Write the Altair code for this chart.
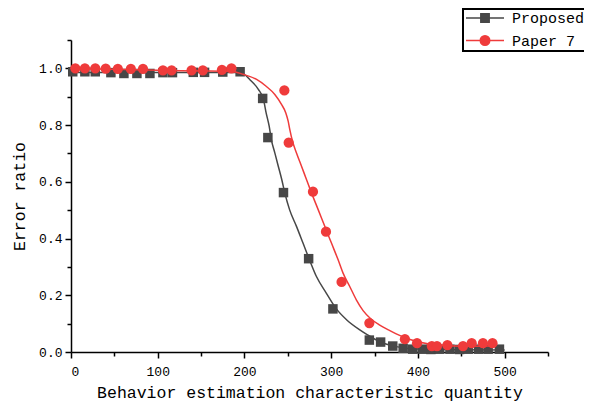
import altair as alt
import pandas as pd

# ---------------- data ----------------
series_names = ["Proposed", "Paper 7"]
series_colors = ["#474747", "#ef3b3b"]

prop_x = [2, 16, 28, 46, 61, 76, 91, 106, 117, 141, 154, 175, 195,
          221, 227, 245, 274, 302, 344, 357, 371, 383,
          394, 405, 415, 425, 437, 448, 458, 470, 481, 494]
prop_y = [0.988, 0.988, 0.988, 0.985, 0.982, 0.982, 0.982, 0.985, 0.985, 0.986, 0.986, 0.987, 0.988,
          0.894, 0.756, 0.562, 0.329, 0.152, 0.042, 0.035, 0.021, 0.013,
          0.010, 0.010, 0.009, 0.010, 0.010, 0.009, 0.010, 0.010, 0.010, 0.010]

p7_x = [5, 16, 28, 40, 54, 69, 83, 106, 116, 139, 152, 174, 185,
        246, 251, 279, 294, 312, 344, 385, 399, 416, 422, 434, 452, 462, 475, 486]
p7_y = [1.000, 1.000, 1.000, 0.999, 0.998, 0.998, 0.998, 0.993, 0.993, 0.993, 0.993, 0.995, 1.000,
        0.922, 0.738, 0.565, 0.424, 0.247, 0.102, 0.045, 0.031, 0.021, 0.021, 0.024, 0.021, 0.031, 0.031, 0.031]

prop_fit_x = [0, 50, 100, 150, 190, 200, 206, 216, 222, 225, 228.5, 231, 235, 239, 243, 246.5,
              252, 260, 267.5, 275, 283, 294.5, 306, 318, 333, 341, 356, 375, 400, 450, 500]
prop_fit_y = [0.985, 0.985, 0.985, 0.985, 0.985, 0.978, 0.961, 0.926, 0.890, 0.843, 0.796, 0.749,
              0.702, 0.655, 0.608, 0.561, 0.502, 0.443, 0.384, 0.325, 0.266, 0.207, 0.152, 0.113,
              0.078, 0.062, 0.036, 0.019, 0.011, 0.008, 0.007]

p7_fit_x = [3, 50, 100, 150, 185, 198.5, 214, 225, 235, 242.7, 247.7, 250.4, 252.3, 255.4, 260,
            265.8, 271.5, 277.3, 285, 292.6, 300.3, 308, 313.7, 321.4, 329, 336.8, 345, 356, 366,
            375, 390, 413, 452, 490]
p7_fit_y = [0.999, 0.997, 0.993, 0.991, 0.989, 0.979, 0.961, 0.937, 0.908, 0.873, 0.843, 0.814,
            0.784, 0.743, 0.702, 0.655, 0.608, 0.561, 0.502, 0.443, 0.384, 0.325, 0.278, 0.231,
            0.184, 0.146, 0.119, 0.095, 0.078, 0.064, 0.045, 0.028, 0.020, 0.021]

x_major = [0, 100, 200, 300, 400, 500]
x_minor = [50, 150, 250, 350, 450, 550]
y_major = [0.0, 0.2, 0.4, 0.6, 0.8, 1.0]
y_minor = [0.1, 0.3, 0.5, 0.7, 0.9, 1.1]

# ---------------- tables ----------------
pts = pd.DataFrame({
    "series": [series_names[0]] * len(prop_x) + [series_names[1]] * len(p7_x),
    "x": prop_x + p7_x,
    "y": prop_y + p7_y,
})
fit = pd.DataFrame({
    "series": [series_names[0]] * len(prop_fit_x) + [series_names[1]] * len(p7_fit_x),
    "x": prop_fit_x + p7_fit_x,
    "y": prop_fit_y + p7_fit_y,
})

FONT = "Liberation Mono"
xs = alt.Scale(domain=[0, 550], nice=False, zero=False)
ys = alt.Scale(domain=[0, 1.1], nice=False, zero=False)
cs = alt.Scale(domain=series_names, range=series_colors)

x_axis = alt.Axis(values=x_major, title="Behavior estimation characteristic quantity",
                  orient="bottom", grid=False, tickSize=6, labelPadding=7, titlePadding=6,
                  labelFontSize=13, titleFontSize=16.5)
y_axis = alt.Axis(values=y_major, format=".1f", title="Error ratio", orient="left",
                  grid=False, tickSize=6, labelPadding=3, titlePadding=11,
                  labelFontSize=13, titleFontSize=16.5)
x_axis_minor = alt.Axis(values=x_minor, orient="bottom", labels=False, title=None,
                        grid=False, tickSize=4, domain=False)
y_axis_minor = alt.Axis(values=y_minor, orient="left", labels=False, title=None,
                        grid=False, tickSize=4, domain=False)

sq_path = "M-1,0H1M-0.22,-0.22H0.22V0.22H-0.22Z"
ci_path = "M-1,0H1M0.25,0A0.25,0.25,0,1,1,-0.25,0A0.25,0.25,0,1,1,0.25,0Z"

leg = alt.Legend(title=None, orient="none", legendX=392, legendY=-31,
                 clipHeight=14, rowPadding=7.5, padding=2, symbolSize=1444,
                 symbolStrokeWidth=1.5, labelFont=FONT, labelFontSize=15,
                 labelOffset=7, strokeColor="black", labelColor="black",
                 symbolOpacity=1)

# legend carrier layer: tiny marks hidden under the real markers
legend_layer = alt.Chart(pts).mark_point(filled=True, opacity=1, size=1, strokeWidth=0.5).encode(
    x=alt.X("x:Q", scale=xs, axis=x_axis_minor),
    y=alt.Y("y:Q", scale=ys, axis=y_axis_minor),
    color=alt.Color("series:N", scale=cs, legend=leg),
    shape=alt.Shape("series:N", scale=alt.Scale(domain=series_names, range=[sq_path, ci_path]),
                    legend=leg),
)

base_line = alt.Chart(fit)
lines_prop = base_line.transform_filter(alt.datum.series == series_names[0]).mark_line(
    strokeWidth=1.5, interpolate="monotone").encode(
    x=alt.X("x:Q", scale=xs, axis=x_axis),
    y=alt.Y("y:Q", scale=ys, axis=y_axis),
    color=alt.Color("series:N", scale=cs, legend=None),
)
lines_p7 = base_line.transform_filter(alt.datum.series == series_names[1]).mark_line(
    strokeWidth=1.5, interpolate="monotone").encode(
    x=alt.X("x:Q", scale=xs, axis=None),
    y=alt.Y("y:Q", scale=ys, axis=None),
    color=alt.Color("series:N", scale=cs, legend=None),
)
squares = alt.Chart(pts).transform_filter(alt.datum.series == series_names[0]).mark_square(
    size=90, opacity=1).encode(
    x=alt.X("x:Q", scale=xs, axis=None),
    y=alt.Y("y:Q", scale=ys, axis=None),
    color=alt.Color("series:N", scale=cs, legend=None),
)
circles = alt.Chart(pts).transform_filter(alt.datum.series == series_names[1]).mark_circle(
    size=105, opacity=1).encode(
    x=alt.X("x:Q", scale=xs, axis=None),
    y=alt.Y("y:Q", scale=ys, axis=None),
    color=alt.Color("series:N", scale=cs, legend=None),
)

chart = alt.layer(legend_layer, lines_prop, squares, lines_p7, circles).resolve_axis(
    x="independent", y="independent"
).properties(
    width=477, height=312,
    autosize=alt.AutoSizeParams(type="none"),
    padding={"left": 63, "top": 32, "right": 36, "bottom": 51},
).configure_view(stroke=None).configure_axis(
    domainColor="black", domainWidth=1.5, tickColor="black", tickWidth=1.5,
    labelColor="black", titleColor="black", labelFont=FONT, titleFont=FONT,
    titleFontWeight="normal",
).configure_legend(strokeWidth=2)

chart.save("out.html", embed_options={"renderer": "svg", "actions": False})
